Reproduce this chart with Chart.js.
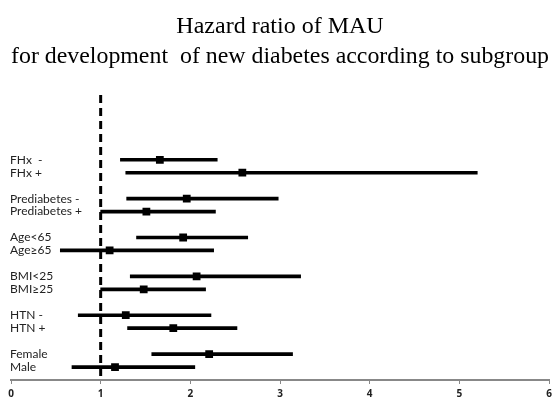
<!DOCTYPE html>
<html>
<head>
<meta charset="utf-8">
<script src="https://cdn.jsdelivr.net/npm/chart.js@4"></script>
<style>
  html, body { margin: 0; padding: 0; background: #fff; }
  #wrap { width: 552px; height: 404px; }
</style>
</head>
<body>
<div id="wrap"><canvas id="myChart"></canvas></div>
<script>
// subgroups, shown in pairs from top to bottom
const subgroups = [
  ['FHx  -', 'FHx +'],
  ['Prediabetes -', 'Prediabetes +'],
  ['Age<65', 'Age≥65'],
  ['BMI<25', 'BMI≥25'],
  ['HTN -', 'HTN +'],
  ['Female', 'Male'],
];

// hazard ratio and 95% CI for every subgroup (same order as above)
const hazardRatio = [1.66, 2.58, 1.96, 1.51, 1.92, 1.10, 2.07, 1.48, 1.28, 1.81, 2.21, 1.16];
const lowerCI = [1.22, 1.28, 1.29, 1.00, 1.40, 0.55, 1.33, 1.00, 0.75, 1.30, 1.57, 0.68];
const upperCI = [2.30, 5.20, 2.98, 2.28, 2.64, 2.26, 3.23, 2.17, 2.23, 2.52, 3.14, 2.05];

// x axis ticks
const xTicks = [0, 1, 2, 3, 4, 5, 6];
const referenceHR = 1;

const categories = subgroups.flat();

// axis labels: some empty rows on top, one empty row between the pairs
let axisLabels = ['', '', '', '', ''];
subgroups.forEach((pair, i) => {
  if (i > 0) axisLabels.push('');
  axisLabels = axisLabels.concat(pair);
});
axisLabels.push('');

const ciData = categories.map((c, i) => ({ y: c, x: [lowerCI[i], upperCI[i]] }));
const hrData = categories.map((c, i) => ({ y: c, x: hazardRatio[i] }));

// dashed line at HR = 1
const refLine = {
  id: 'refLine',
  beforeDatasetsDraw(chart) {
    const { ctx, chartArea, scales } = chart;
    const x = scales.x.getPixelForValue(referenceHR);
    ctx.save();
    ctx.strokeStyle = '#000';
    ctx.lineWidth = 3;
    ctx.setLineDash([8, 5]);
    ctx.beginPath();
    ctx.moveTo(x, chartArea.top);
    ctx.lineTo(x, chartArea.bottom);
    ctx.stroke();
    ctx.restore();
  },
};

const ctx = document.getElementById('myChart').getContext('2d');
const myChart = new Chart(ctx, {
  data: {
    labels: axisLabels,
    datasets: [
      {
        type: 'line',
        indexAxis: 'y',
        label: 'Hazard ratio',
        data: hrData,
        showLine: false,
        pointStyle: 'rect',
        pointRadius: 5.5,
        pointBorderWidth: 0,
        backgroundColor: '#000',
        borderColor: '#000',
        order: 0,
      },
      {
        type: 'bar',
        indexAxis: 'y',
        label: '95% CI',
        data: ciData,
        backgroundColor: '#000',
        barThickness: 3,
        order: 1,
      },
    ],
  },
  options: {
    indexAxis: 'y',
    responsive: true,
    maintainAspectRatio: false,
    animation: false,
    layout: { autoPadding: false, padding: { left: 11, right: 3, top: 0, bottom: 0 } },
    plugins: {
      legend: { display: false },
      tooltip: { enabled: false },
      title: {
        display: true,
        text: ['Hazard ratio of MAU', 'for development  of new diabetes according to subgroup'],
        color: '#000',
        font: { family: 'Liberation Serif', size: 24, weight: 'normal', lineHeight: 1.25 },
        padding: { top: 12, bottom: 23 },
      },
    },
    scales: {
      x: {
        type: 'linear',
        min: xTicks[0],
        max: xTicks[xTicks.length - 1],
        afterBuildTicks: (scale) => {
          scale.ticks = xTicks.map((v) => ({ value: v }));
        },
        afterFit: (scale) => {
          scale.paddingLeft = 0;
          scale.paddingRight = 0;
        },
        grid: { display: true, drawOnChartArea: false, tickLength: 4, color: '#888' },
        border: { display: true, color: '#888', width: 2 },
        ticks: {
          padding: 4,
          color: '#222',
          font: { family: 'Noto Sans', size: 10, weight: 'bold' },
        },
      },
      y: {
        type: 'category',
        offset: false,
        grid: { display: false },
        border: { display: false },
        afterFit: (scale) => { scale.width = 0; },
        ticks: {
          mirror: true,
          padding: -1,
          autoSkip: false,
          color: '#222',
          font: { family: 'Lato', size: 12 },
        },
      },
    },
  },
  plugins: [refLine],
});
</script>
</body>
</html>
